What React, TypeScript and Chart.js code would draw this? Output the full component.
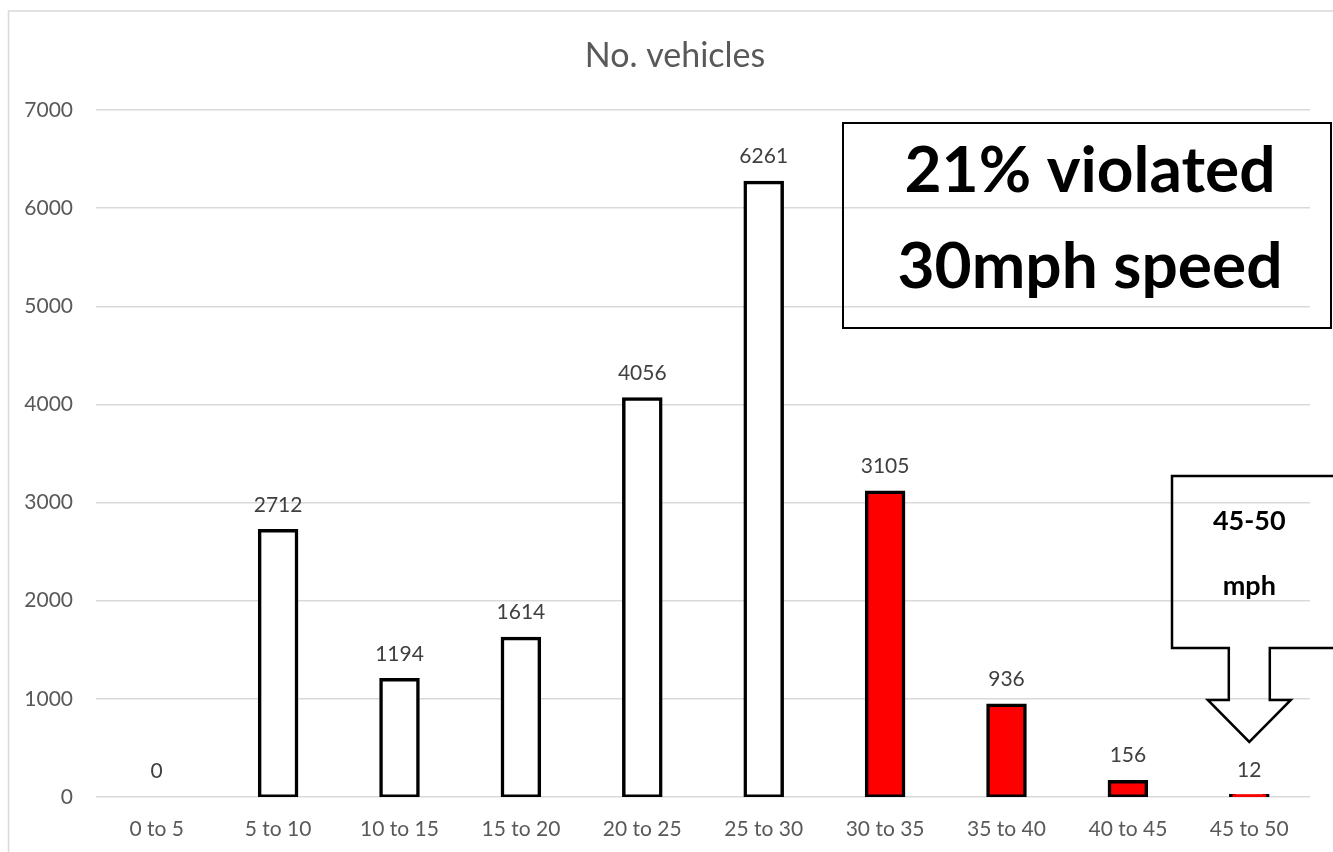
import React, { useEffect, useRef } from "react";
import { Chart, registerables } from "chart.js";

Chart.register(...registerables);

const categories: string[] = ["0 to 5", "5 to 10", "10 to 15", "15 to 20", "20 to 25", "25 to 30", "30 to 35", "35 to 40", "40 to 45", "45 to 50"];
const vehicles: number[] = [0, 2712, 1194, 1614, 4056, 6261, 3105, 936, 156, 12];
const violating: boolean[] = [false, false, false, false, false, false, true, true, true, true];
const yTicks: number[] = [0, 1000, 2000, 3000, 4000, 5000, 6000, 7000];
const chartTitle = "No. vehicles";
const boxLines: string[] = ["21% violated", "30mph speed"];
const calloutLines: string[] = ["45-50", "mph"];
const calloutIndex = 9;

const FONT = "Lato, 'Open Sans', sans-serif";

const overlayPlugin = {
  id: "overlay",
  afterDatasetsDraw(chart: any) {
    const ctx = chart.ctx;
    const meta = chart.getDatasetMeta(0);
    ctx.save();
    ctx.font = `21px ${FONT}`;
    ctx.fillStyle = "#404040";
    ctx.textAlign = "center";
    ctx.textBaseline = "middle";
    meta.data.forEach((el: any, i: number) => {
      ctx.fillText(String(vehicles[i]), el.x, el.y - 26);
    });
    ctx.restore();
  },
  afterDraw(chart: any) {
    const ctx = chart.ctx;
    const W = chart.width;
    const H = chart.height;
    ctx.save();
    // outer chart border (top and left visible)
    ctx.strokeStyle = "#d9d9d9";
    ctx.lineWidth = 1.5;
    ctx.beginPath();
    ctx.moveTo(8.5, H + 2);
    ctx.lineTo(8.5, 11);
    ctx.lineTo(W + 2, 11);
    ctx.stroke();

    // title
    ctx.font = `34px ${FONT}`;
    ctx.fillStyle = "#595959";
    ctx.textAlign = "center";
    ctx.textBaseline = "alphabetic";
    ctx.fillText(chartTitle, 675, 67);

    // text box
    ctx.strokeStyle = "#000";
    ctx.lineWidth = 2;
    ctx.strokeRect(843, 123, 488, 205);
    ctx.fillStyle = "#000";
    ctx.font = `bold 64px ${FONT}`;
    ctx.fillText(boxLines[0], 1090, 192);
    ctx.fillText(boxLines[1], 1090, 288);

    // callout with down arrow
    const x = chart.scales.x;
    const tipX = x.getPixelForValue(calloutIndex);
    const top = 476;
    const bottom = 648;
    const left = 1172;
    const stemHalf = 20.5;
    const headHalf = 41.5;
    const headTop = 700;
    const tipY = 742;
    ctx.lineWidth = 2.5;
    ctx.beginPath();
    ctx.moveTo(W + 5, top);
    ctx.lineTo(left, top);
    ctx.lineTo(left, bottom);
    ctx.lineTo(tipX - stemHalf, bottom);
    ctx.lineTo(tipX - stemHalf, headTop);
    ctx.lineTo(tipX - headHalf, headTop);
    ctx.lineTo(tipX, tipY);
    ctx.lineTo(tipX + headHalf, headTop);
    ctx.lineTo(tipX + stemHalf, headTop);
    ctx.lineTo(tipX + stemHalf, bottom);
    ctx.lineTo(W + 5, bottom);
    ctx.stroke();
    ctx.font = `bold 27px ${FONT}`;
    ctx.fillText(calloutLines[0], tipX, 530);
    ctx.fillText(calloutLines[1], tipX, 595);
    ctx.restore();
  },
};

export default function App() {
  const ref = useRef<HTMLCanvasElement | null>(null);
  useEffect(() => {
    document.body.style.margin = "0";
    document.body.style.overflow = "hidden";
    if (!ref.current) return;
    const chart = new Chart(ref.current, {
      type: "bar",
      data: {
        labels: categories,
        datasets: [
          {
            data: vehicles,
            backgroundColor: violating.map((v) => (v ? "#ff0000" : "#ffffff")),
            borderColor: "#000000",
            borderWidth: 3.5,
            borderSkipped: false,
            inflateAmount: 1.75,
            barPercentage: 0.305,
            categoryPercentage: 1,
          },
        ],
      },
      options: {
        responsive: false,
        animation: false,
        devicePixelRatio: 1,
        layout: { padding: { top: 110, right: 23, bottom: 0, left: 0 } },
        plugins: {
          legend: { display: false },
          title: { display: false },
          tooltip: { enabled: false },
        },
        scales: {
          x: {
            grid: { display: false, drawTicks: false },
            border: { display: false },
            ticks: { color: "#595959", font: { family: FONT, size: 21 }, padding: 20 },
            afterFit: (s: any) => {
              s.height = 55;
            },
          },
          y: {
            min: 0,
            max: 7000,
            afterBuildTicks: (s: any) => {
              s.ticks = yTicks.map((v) => ({ value: v }));
            },
            grid: { color: "#d9d9d9", lineWidth: 1.5, drawTicks: false },
            border: { display: false },
            ticks: {
              color: "#595959",
              font: { family: FONT, size: 21 },
              padding: 23,
              callback: (v: any) => String(v),
            },
            afterFit: (s: any) => {
              s.width = 96;
            },
          },
        },
      },
      plugins: [overlayPlugin],
    });
    return () => chart.destroy();
  }, []);
  return (
    <div style={{ width: 1333, height: 852 }}>
      <canvas ref={ref} width={1333} height={852} style={{ display: "block" }} />
    </div>
  );
}
